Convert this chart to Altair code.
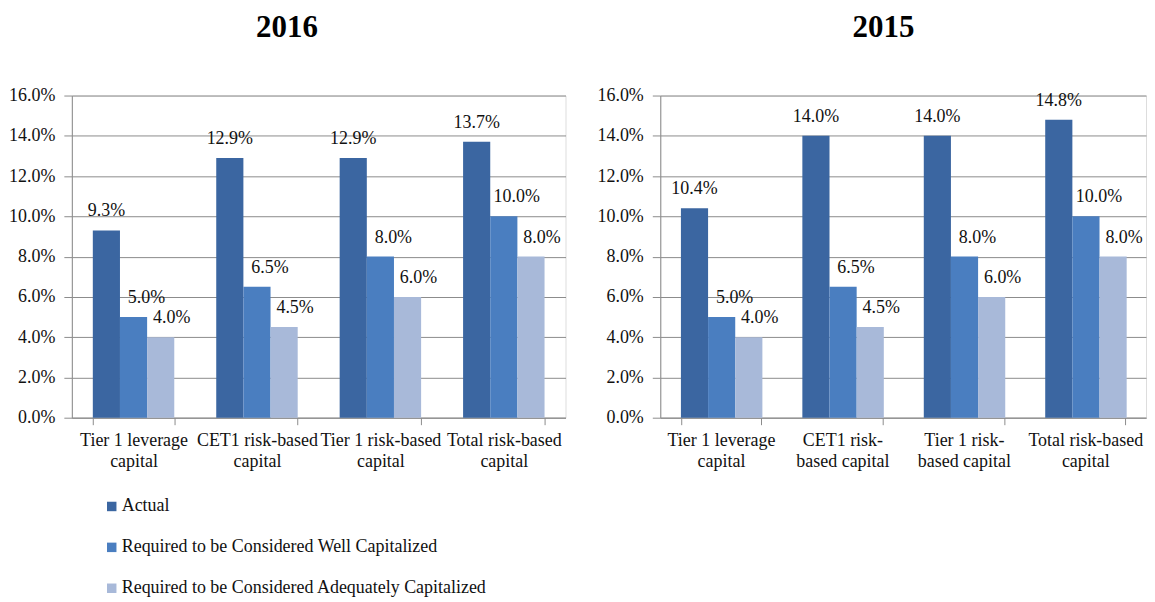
import altair as alt
import pandas as pd

series = ["Actual",
          "Required to be Considered Well Capitalized",
          "Required to be Considered Adequately Capitalized"]
colors = ["#3b66a1", "#4a7ec0", "#a8b9d9"]

labels_2016 = ["Tier 1 leverage\ncapital", "CET1 risk-based\ncapital",
               "Tier 1 risk-based\ncapital", "Total risk-based\ncapital"]
labels_2015 = ["Tier 1 leverage\ncapital", "CET1 risk-\nbased capital",
               "Tier 1 risk-\nbased capital", "Total risk-based\ncapital"]

actual_2016 = [9.3, 12.9, 12.9, 13.7]
well_2016 = [5.0, 6.5, 8.0, 10.0]
adequate_2016 = [4.0, 4.5, 6.0, 8.0]

actual_2015 = [10.4, 14.0, 14.0, 14.8]
well_2015 = [5.0, 6.5, 8.0, 10.0]
adequate_2015 = [4.0, 4.5, 6.0, 8.0]

y_ticks = [0, 2, 4, 6, 8, 10, 12, 14, 16]

FONT = "Liberation Serif"
GRID = "#8c8c8c"
label_dx = [0, 13, 11]


def make_df(labels, a, w, q):
    rows = []
    for i, lab in enumerate(labels):
        for s, vals in zip(series, [a, w, q]):
            rows.append({"cat": lab, "series": s, "value": vals[i]})
    return pd.DataFrame(rows)


def panel(title, labels, a, w, q, width, title_dx):
    df = make_df(labels, a, w, q)
    x = alt.X("cat:N", sort=labels, title=None,
              scale=alt.Scale(paddingInner=0.34, paddingOuter=0.17),
              axis=alt.Axis(labelExpr="split(datum.label, '\\n')",
                            labelAngle=0, labelFont=FONT, labelFontSize=18,
                            labelColor="#111", labelLineHeight=21,
                            labelBaseline="top", labelPadding=7,
                            tickBand="extent", tickSize=7, tickColor=GRID,
                            domainColor=GRID, labelLimit=300))
    xo = alt.XOffset("series:N", sort=series)
    y = alt.Y("value:Q", title=None,
              scale=alt.Scale(domain=[0, 16], nice=False),
              axis=alt.Axis(values=y_ticks,
                            labelExpr="format(datum.value, '.1f') + '%'",
                            labelFont=FONT, labelFontSize=18, labelColor="#111",
                            labelPadding=9, tickSize=8, tickColor=GRID,
                            domainColor=GRID, gridColor=GRID, grid=True))
    color = alt.Color("series:N", sort=series,
                      scale=alt.Scale(domain=series, range=colors),
                      legend=alt.Legend(orient="none", legendX=31, legendY=403,
                                        title=None, symbolType="square",
                                        symbolSize=90, symbolStrokeWidth=0,
                                        labelFont=FONT, labelFontSize=18,
                                        labelColor="#111", rowPadding=23,
                                        labelOffset=1, labelLimit=600))
    base = alt.Chart(df)
    bars = base.mark_bar().encode(x=x, xOffset=xo, y=y, color=color)
    layers = [bars]
    for s, dx in zip(series, label_dx):
        layers.append(
            base.transform_filter(alt.datum.series == s)
            .mark_text(font=FONT, fontSize=18, color="#111", dx=dx, dy=-14,
                       baseline="alphabetic", align="center")
            .encode(x=x, xOffset=xo, y=y,
                    text=alt.Text("label:N"))
            .transform_calculate(label="format(datum.value, '.1f') + '%'")
        )
    return alt.layer(*layers).properties(
        width=width, height=323,
        title=alt.Title(title, font=FONT, fontSize=31, fontWeight="bold",
                        color="#000", anchor="middle", frame="bounds",
                        offset=43, dx=title_dx))


left = panel("2016", labels_2016, actual_2016, well_2016, adequate_2016, 495, 0)
right = panel("2015", labels_2015, actual_2015, well_2015, adequate_2015, 487, 12)

chart = alt.hconcat(left, right, spacing=30).properties(
    padding={"left": 0, "top": 2, "right": 0, "bottom": 0}
).configure_view(stroke=None).configure(background="white")

chart.save("out.html", embed_options={"renderer": "svg", "actions": False})
